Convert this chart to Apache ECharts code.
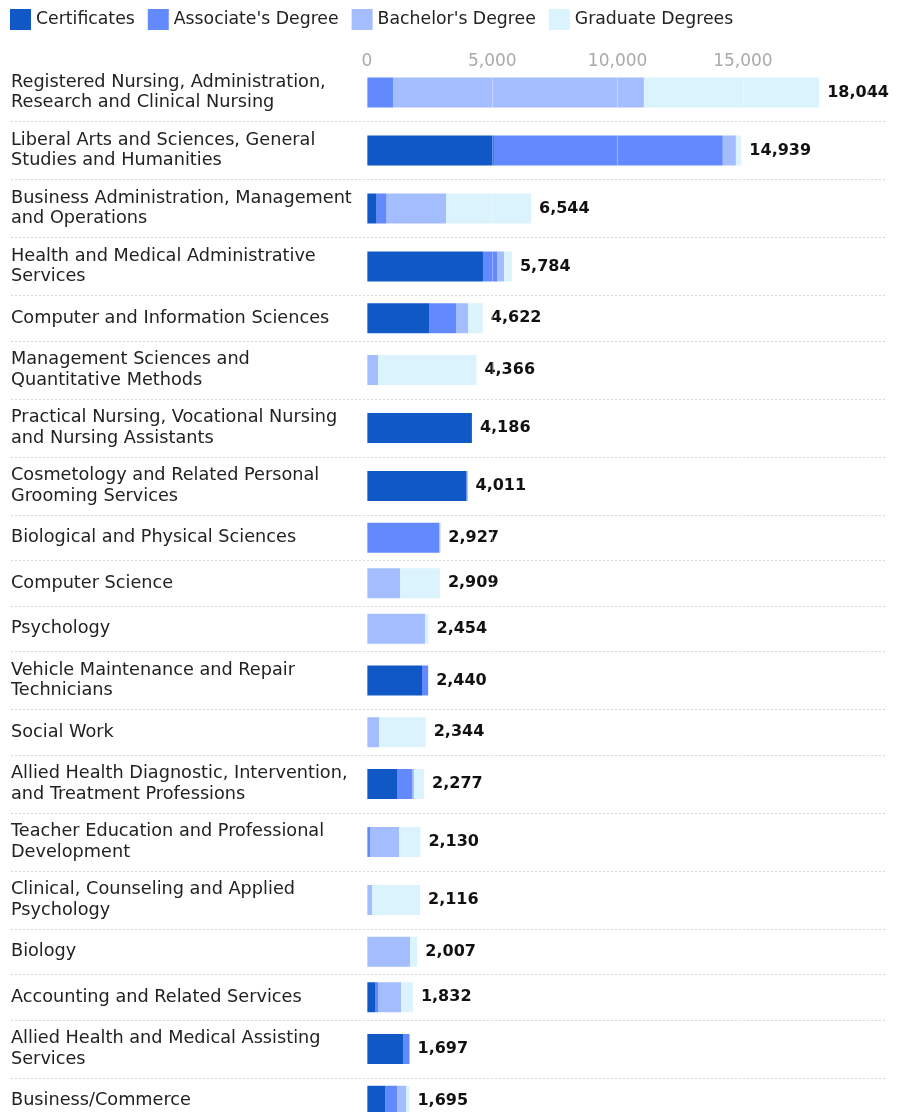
<!DOCTYPE html>
<html>
<head>
<meta charset="utf-8">
<style>
  html, body { margin: 0; padding: 0; background: #ffffff; overflow: hidden; }
  #chart { width: 901px; height: 1130px; }
</style>
<script src="https://cdn.jsdelivr.net/npm/echarts@6/dist/echarts.min.js"></script>
</head>
<body>
<div id="chart"></div>
<script>
// Fields of study, top to bottom
const categories = [
  "Registered Nursing, Administration,\nResearch and Clinical Nursing",
  "Liberal Arts and Sciences, General\nStudies and Humanities",
  "Business Administration, Management\nand Operations",
  "Health and Medical Administrative\nServices",
  "Computer and Information Sciences",
  "Management Sciences and\nQuantitative Methods",
  "Practical Nursing, Vocational Nursing\nand Nursing Assistants",
  "Cosmetology and Related Personal\nGrooming Services",
  "Biological and Physical Sciences",
  "Computer Science",
  "Psychology",
  "Vehicle Maintenance and Repair\nTechnicians",
  "Social Work",
  "Allied Health Diagnostic, Intervention,\nand Treatment Professions",
  "Teacher Education and Professional\nDevelopment",
  "Clinical, Counseling and Applied\nPsychology",
  "Biology",
  "Accounting and Related Services",
  "Allied Health and Medical Assisting\nServices",
  "Business/Commerce"
];

const seriesNames = ["Certificates", "Associate's Degree", "Bachelor's Degree", "Graduate Degrees"];

const certificates = [0, 5060, 386, 4628, 2474, 0, 4186, 3971, 0, 0, 0, 2195, 0, 1197, 0, 0, 0, 319, 1436, 718];
const associates   = [1040, 9138, 399, 559, 1077, 0, 0, 40, 2880, 0, 0, 245, 0, 599, 120, 0, 0, 120, 261, 479];
const bachelors    = [10010, 523, 2367, 279, 479, 439, 0, 0, 47, 1317, 2314, 0, 479, 79, 1157, 200, 1716, 918, 0, 359];
const graduate     = [6994, 218, 3392, 318, 592, 3927, 0, 0, 0, 1592, 140, 0, 1865, 402, 853, 1916, 291, 475, 0, 139];

const axisTicks = [0, 5000, 10000, 15000];

const colors = ["#1158c7", "#6389ff", "#a3bdff", "#daf3fc"];
const FONT = "DejaVu Sans";

const seriesValues = [certificates, associates, bachelors, graduate];
const fmt = v => v.toLocaleString("en-US");

// Row layout: two-line labels get taller rows
const grids = [], xAxes = [], yAxes = [], series = [], graphics = [];
let rowTop = 63;
const plotLeft = 367, plotWidth = 501.2;
categories.forEach((cat, i) => {
  const lines = cat.split("\n").length;
  const h = lines === 2 ? 58 : 45.5;
  grids.push({ left: plotLeft, top: rowTop + 0.5, width: plotWidth, height: h, containLabel: false });
  xAxes.push({
    type: "value", gridIndex: i, min: 0, max: 20000, interval: 5000,
    position: "top", z: 5,
    axisLine: { show: false }, axisTick: { show: false },
    axisLabel: {
      show: i === 0, color: "#aaaaaa", fontFamily: FONT, fontSize: 17,
      verticalAlign: "middle", margin: 2,
      formatter: v => axisTicks.includes(v) ? fmt(v) : ""
    },
    splitLine: { show: true, lineStyle: { color: "rgba(255,255,255,0.35)", width: 1 } }
  });
  yAxes.push({
    type: "category", gridIndex: i, data: [cat], inverse: true,
    axisLine: { show: false }, axisTick: { show: false },
    axisLabel: {
      align: "left", margin: plotLeft - 11, color: "#222222",
      fontFamily: FONT, fontSize: 17.7, lineHeight: 20.7
    }
  });
  const total = seriesValues.reduce((s, arr) => s + arr[i], 0);
  let last = 0;
  seriesValues.forEach((arr, s) => { if (arr[i] > 0) last = s; });
  seriesValues.forEach((arr, s) => {
    series.push({
      type: "bar", name: seriesNames[s], xAxisIndex: i, yAxisIndex: i,
      stack: "row" + i, barWidth: 30,
      itemStyle: { color: colors[s] },
      label: {
        show: s === last, position: "right", distance: 8,
        formatter: () => fmt(total),
        color: "#111111", fontFamily: FONT, fontWeight: "bold", fontSize: 16
      },
      data: [arr[i]]
    });
  });
  rowTop += h;
  if (i < categories.length - 1) {
    graphics.push({
      type: "line", silent: true,
      shape: { x1: 11, y1: Math.round(rowTop) + 0.5, x2: 885, y2: Math.round(rowTop) + 0.5 },
      style: { stroke: "#d6d6d6", lineWidth: 1, lineDash: [2, 2] }
    });
  }
});

const chart = echarts.init(document.getElementById("chart"), null, { renderer: "canvas" });
chart.setOption({
  animation: false,
  backgroundColor: "#ffffff",
  legend: {
    data: seriesNames, left: 10, top: 9, padding: 0, icon: "rect",
    itemWidth: 21, itemHeight: 21, itemGap: 13,
    textStyle: { color: "#222222", fontFamily: FONT, fontSize: 17.3 }
  },
  grid: grids,
  xAxis: xAxes,
  yAxis: yAxes,
  series: series,
  graphic: graphics
});
</script>
</body>
</html>
